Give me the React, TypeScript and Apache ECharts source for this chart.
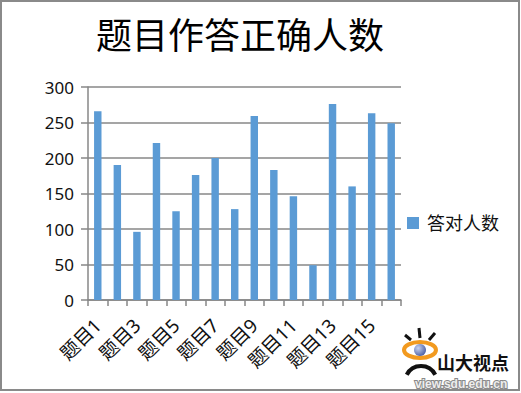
import React, { useEffect, useRef } from "react";
import * as echarts from "echarts";

const categories = [
  "题目1", "题目2", "题目3", "题目4", "题目5", "题目6", "题目7", "题目8",
  "题目9", "题目10", "题目11", "题目12", "题目13", "题目14", "题目15", "题目16",
];
const correctCounts = [266, 190, 96, 221, 125, 176, 200, 128, 259, 183, 146, 49, 276, 160, 263, 249];
const seriesName = "答对人数";
const titleText = "题目作答正确人数";
const yMin = 0;
const yMax = 300;
const yInterval = 50;

export default function App() {
  const ref = useRef<HTMLDivElement>(null);
  useEffect(() => {
    document.body.style.margin = "0";
    const chart = echarts.init(ref.current!, null, { renderer: "svg" });
    const cjk = "'Noto Sans', 'Noto Sans CJK SC', sans-serif";
    const gray = "#878787";
    chart.setOption({
      animation: false,
      backgroundColor: "#fff",
      title: {
        text: titleText,
        left: 91,
        top: 10,
        textStyle: { fontSize: 36, fontWeight: "normal", color: "#000", fontFamily: "'Noto Sans CJK SC', serif" },
      },
      legend: {
        orient: "vertical",
        left: 402,
        top: 209,
        itemWidth: 12,
        itemHeight: 12,
        icon: "rect",
        data: [seriesName],
        textStyle: { fontSize: 18, color: "#111", fontFamily: cjk, padding: [0, 0, 0, 3] },
      },
      grid: { left: 88, right: 120, top: 87, bottom: 93, containLabel: false },
      xAxis: {
        type: "category",
        data: categories,
        axisLine: { show: true, lineStyle: { color: gray, width: 1.5 } },
        axisTick: { show: true, interval: 0, length: 6, alignWithLabel: false, lineStyle: { color: gray, width: 1.5 } },
        axisLabel: { interval: 1, rotate: 45, fontSize: 19, color: "#111", margin: 22, fontFamily: cjk },
        splitLine: { show: false },
      },
      yAxis: {
        type: "value",
        min: yMin,
        max: yMax,
        interval: yInterval,
        axisLine: { show: true, lineStyle: { color: gray, width: 1.5 } },
        axisTick: { show: true, length: 7, lineStyle: { color: gray, width: 1.5 } },
        axisLabel: { fontSize: 17, color: "#111", margin: 14, fontFamily: cjk },
        splitLine: { show: true, lineStyle: { color: gray, width: 1.5 } },
      },
      series: [
        {
          name: seriesName,
          type: "bar",
          data: correctCounts,
          barWidth: "38%",
          itemStyle: { color: "#5b9bd5" },
        },
      ],
      graphic: [
        {
          type: "rect",
          shape: { x: 1, y: 1, width: 518, height: 389 },
          style: { fill: "none", stroke: "#8a8a8a", lineWidth: 2 },
          silent: true,
        },
        { type: "line", shape: { x1: 405, y1: 335, x2: 411, y2: 340 }, style: { stroke: "#111", lineWidth: 3 } },
        { type: "line", shape: { x1: 419, y1: 328, x2: 420, y2: 338 }, style: { stroke: "#111", lineWidth: 3 } },
        { type: "line", shape: { x1: 435, y1: 333, x2: 429, y2: 340 }, style: { stroke: "#111", lineWidth: 3 } },
        {
          type: "ellipse",
          shape: { cx: 420, cy: 350, rx: 16, ry: 8 },
          style: { fill: "none", stroke: "#f29a1f", lineWidth: 4 },
        },
        {
          type: "circle",
          shape: { cx: 420, cy: 350, r: 6 },
          style: {
            fill: new echarts.graphic.RadialGradient(0.35, 0.35, 0.8, [
              { offset: 0, color: "#c7d3f2" },
              { offset: 1, color: "#3a4f9a" },
            ]),
          },
        },
        {
          type: "arc",
          shape: { cx: 421, cy: 382, r: 16, startAngle: Math.PI * 1.15, endAngle: Math.PI * 1.85 },
          style: { fill: "none", stroke: "#111", lineWidth: 4 },
        },
        {
          type: "text",
          x: 437,
          y: 353,
          style: { text: "山大视点", fontSize: 18, fontWeight: "bold", fill: "#111", fontFamily: "'Noto Sans CJK SC', sans-serif" },
        },
        {
          type: "text",
          x: 415,
          y: 378,
          style: { text: "view.sdu.edu.cn", fontSize: 12, fontWeight: "bold", fill: "#eeeeee", stroke: "#8a8a8a", lineWidth: 2, fontFamily: "'Liberation Sans', sans-serif" },
        },
      ],
    });
    return () => chart.dispose();
  }, []);
  return <div ref={ref} style={{ width: 521, height: 393 }} />;
}
